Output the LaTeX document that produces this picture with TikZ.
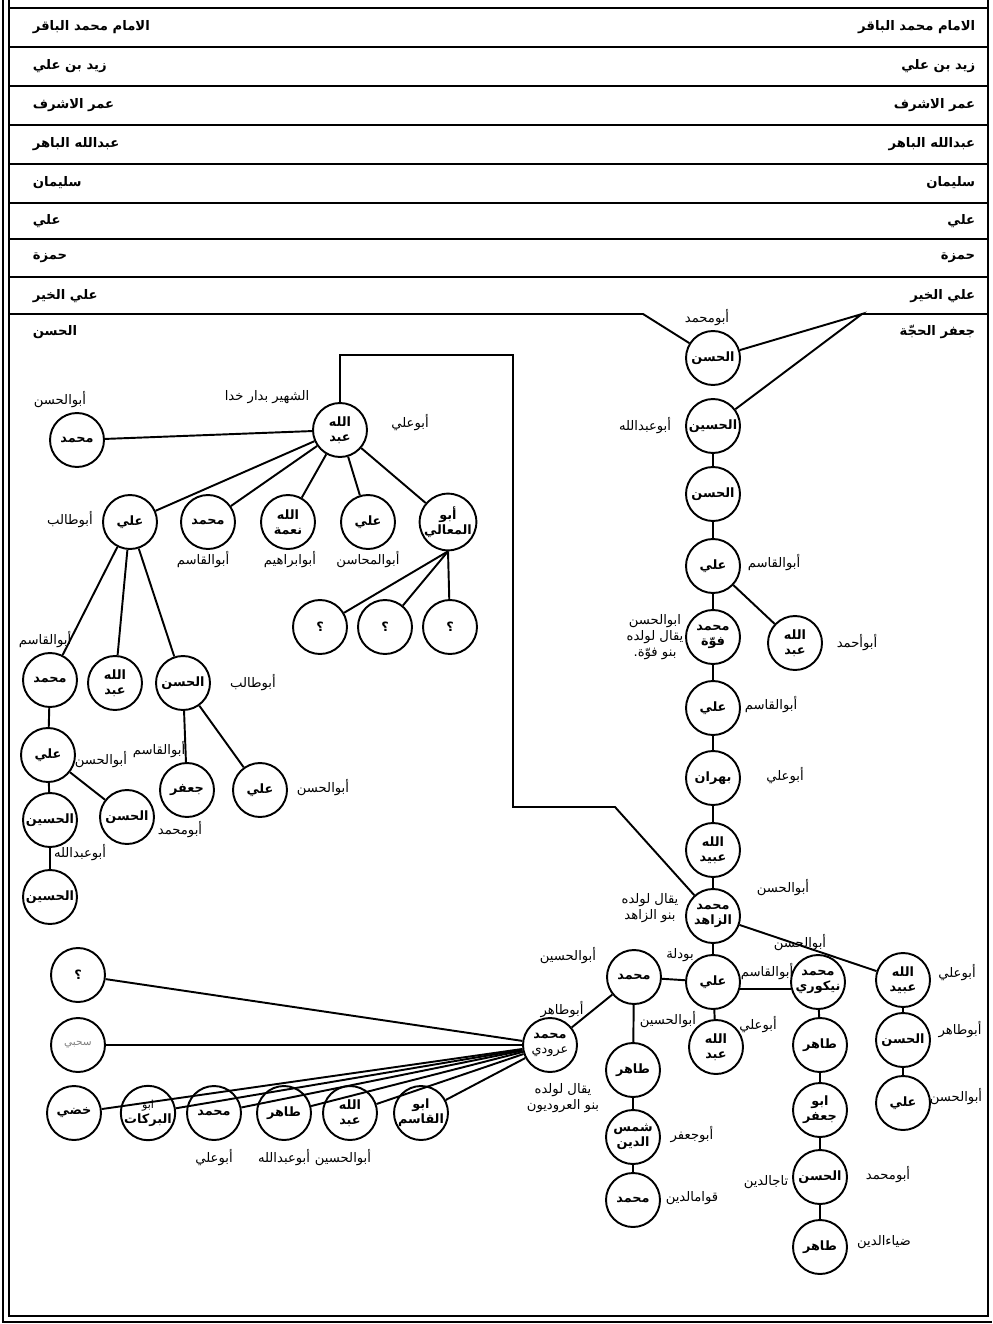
\documentclass[tikz,border=0pt]{standalone}
\usepackage{fontspec}
\setmainfont[Script=Arabic]{DejaVu Sans}
\TeXXeTstate=1
\newcommand{\ar}[1]{\beginR #1\endR}

\begin{document}
\begin{tikzpicture}[x=0.02cm,y=-0.02cm,line width=1.1pt,
  person/.style={circle,draw,minimum size=1.08cm,inner sep=0pt,align=center,font=\fontsize{7.3}{8.5}\selectfont\bfseries},
  lbl/.style={align=center,font=\fontsize{7.5}{9}\selectfont},
  rowtext/.style={font=\fontsize{7.5}{9}\selectfont\bfseries}]
\useasboundingbox (0,0) rectangle (992,1324);

\draw (3,0) -- (3,1322) -- (992,1322);
\draw (9,0) -- (9,1316) -- (988,1316) -- (988,0);
\foreach \y in {8,47,86,125,164,203,239,277}
  \draw (9,\y) -- (988,\y);

\foreach \y/\t in {27/الامام محمد الباقر,66/زيد بن علي,105/عمر الاشرف,144/عبدالله الباهر,183/سليمان,221/علي,258/حمزة,296/علي الخير}{
  \node[rowtext,anchor=west] (l\y) at (26,\y) {\ar{\t}};
  \node[rowtext,anchor=east] (r\y) at (982,\y) {\ar{\t}};
}
\node[rowtext,anchor=west] (hasan) at (26,332) {\ar{الحسن}};
\node[rowtext,anchor=east] (jafar) at (982,332) {\ar{جعفر الحجّة}};

% right line
\node[person] (h1) at (713,358) {\ar{الحسن}};
\node[person] (h2) at (713,426) {\ar{الحسين}};
\node[person] (h3) at (713,494) {\ar{الحسن}};
\node[person] (a1) at (713,566) {\ar{علي}};
\node[person] (m1) at (713,637) {\ar{محمد}\\\ar{فوّة}};
\node[person] (u1) at (795,643) {\ar{الله}\\\ar{عبد}};
\node[person] (a2) at (713,708) {\ar{علي}};
\node[person] (b1) at (713,778) {\ar{بهران}};
\node[person] (u2) at (713,850) {\ar{الله}\\\ar{عبيد}};
\node[person] (z) at (713,916) {\ar{محمد}\\\ar{الزاهد}};
\node[person] (a3) at (713,982) {\ar{علي}};
\node[person] (m2) at (634,977) {\ar{محمد}};
\node[person] (mn) at (818,982) {\ar{محمد}\\\ar{نيكوري}};
\node[person] (u3) at (903,980) {\ar{الله}\\\ar{عبيد}};
\node[person] (u4) at (716,1047) {\ar{الله}\\\ar{عبد}};
\node[person] (t1) at (633,1070) {\ar{طاهر}};
\node[person] (sd) at (633,1137) {\ar{شمس}\\\ar{الدين}};
\node[person] (m3) at (633,1200) {\ar{محمد}};
\node[person] (t2) at (820,1045) {\ar{طاهر}};
\node[person] (aj) at (820,1110) {\ar{ابو}\\\ar{جعفر}};
\node[person] (h4) at (820,1177) {\ar{الحسن}};
\node[person] (t3) at (820,1247) {\ar{طاهر}};
\node[person] (h5) at (903,1040) {\ar{الحسن}};
\node[person] (a4) at (903,1103) {\ar{علي}};
\node[person] (ma) at (550,1045) {\ar{محمد}\\\ar{\mdseries عرودي}};

\node[lbl] (h1k) at (707,318) {\ar{أبومحمد}};
\node[lbl] (h2k) at (645,426) {\ar{أبوعبدالله}};
\node[lbl] (a1k) at (774,563) {\ar{أبوالقاسم}};
\node[lbl] (m1k) at (655,637) {\ar{ابوالحسن}\\\ar{يقال لولده}\\\ar{بنو فوّة.}};
\node[lbl] (u1k) at (857,643) {\ar{أبوأحمد}};
\node[lbl] (a2k) at (771,705) {\ar{أبوالقاسم}};
\node[lbl] (b1k) at (785,776) {\ar{أبوعلي}};
\node[lbl] (zk) at (783,888) {\ar{أبوالحسن}};
\node[lbl] (zn) at (650,908) {\ar{يقال لولده}\\\ar{بنو الزاهد}};
\node[lbl] (a3k) at (680,955) {\ar{بودلة}};
\node[lbl] (m2k) at (568,956) {\ar{أبوالحسين}};
\node[lbl] (mnk) at (800,943) {\ar{أبوالحسن}};
\node[lbl] (mnq) at (767,972) {\ar{أبوالقاسم}};
\node[lbl] (u3k) at (957,973) {\ar{أبوعلي}};
\node[lbl] (u4k) at (758,1025) {\ar{أبوعلي}};
\node[lbl] (t1k) at (668,1020) {\ar{أبوالحسين}};
\node[lbl] (sdk) at (692,1135) {\ar{أبوجعفر}};
\node[lbl] (m3k) at (692,1198) {\ar{قوامالدين}};
\node[lbl] (h4t) at (766,1182) {\ar{تاجالدين}};
\node[lbl] (h4k) at (888,1175) {\ar{أبومحمد}};
\node[lbl] (t3k) at (884,1242) {\ar{ضياءالدين}};
\node[lbl] (h5k) at (960,1030) {\ar{أبوطاهر}};
\node[lbl] (a4k) at (956,1097) {\ar{أبوالحسن}};
\node[lbl] (mak) at (562,1010) {\ar{أبوطاهر}};
\node[lbl] (man) at (563,1098) {\ar{يقال لولده}\\\ar{بنو العروديون}};

% sons of muhammad arudi
\node[person] (q1) at (78,975) {\ar{؟}};
\node[person] (fa) at (78,1045) {\color{gray}\fontsize{6}{7}\selectfont\mdseries\ar{سحبي}};
\node[person] (kd) at (74,1113) {\ar{خضي}};
\node[person] (ab) at (148,1113) {\fontsize{6.3}{7}\selectfont\mdseries\ar{ابو}\\\ar{البركات}};
\node[person] (mm) at (214,1113) {\ar{محمد}};
\node[person] (tt) at (284,1113) {\ar{طاهر}};
\node[person] (ub) at (350,1113) {\ar{الله}\\\ar{عبد}};
\node[person] (aq) at (421,1113) {\ar{ابو}\\\ar{القاسم}};
\node[lbl] (mmk) at (214,1158) {\ar{أبوعلي}};
\node[lbl] (ttk) at (284,1158) {\ar{أبوعبدالله}};
\node[lbl] (ubk) at (343,1158) {\ar{أبوالحسين}};

% left line
\node[person] (ua) at (340,430) {\ar{الله}\\\ar{عبد}};
\node[person] (ml) at (77,440) {\ar{محمد}};
\node[person] (al1) at (130,522) {\ar{علي}};
\node[person] (mc) at (208,522) {\ar{محمد}};
\node[person] (nm) at (288,522) {\ar{الله}\\\ar{نعمة}};
\node[person] (al2) at (368,522) {\ar{علي}};
\node[person] (am) at (448,522) {\ar{أبو}\\\ar{المعالي}};
\node[person] (q2) at (320,627) {\ar{؟}};
\node[person] (q3) at (385,627) {\ar{؟}};
\node[person] (q4) at (450,627) {\ar{؟}};
\node[person] (lm) at (50,680) {\ar{محمد}};
\node[person] (lu) at (115,683) {\ar{الله}\\\ar{عبد}};
\node[person] (lh) at (183,683) {\ar{الحسن}};
\node[person] (la) at (48,755) {\ar{علي}};
\node[person] (lhs) at (50,820) {\ar{الحسين}};
\node[person] (lhn) at (127,817) {\ar{الحسن}};
\node[person] (lhs2) at (50,897) {\ar{الحسين}};
\node[person] (lj) at (187,790) {\ar{جعفر}};
\node[person] (la2) at (260,790) {\ar{علي}};

\node[lbl] (uan) at (267,397) {\ar{الشهير بدار خدا}};
\node[lbl] (uak) at (410,423) {\ar{أبوعلي}};
\node[lbl] (mlk) at (60,400) {\ar{أبوالحسن}};
\node[lbl] (al1k) at (70,520) {\ar{أبوطالب}};
\node[lbl] (mck) at (203,560) {\ar{أبوالقاسم}};
\node[lbl] (nmk) at (290,560) {\ar{أبوابراهيم}};
\node[lbl] (al2k) at (368,560) {\ar{أبوالمحاسن}};
\node[lbl] (lmk) at (45,640) {\ar{أبوالقاسم}};
\node[lbl] (lhk) at (253,683) {\ar{أبوطالب}};
\node[lbl] (lak) at (101,760) {\ar{أبوالحسن}};
\node[lbl] (lhsk) at (80,853) {\ar{أبوعبدالله}};
\node[lbl] (lhnk) at (180,830) {\ar{أبومحمد}};
\node[lbl] (ljk) at (159,750) {\ar{أبوالقاسم}};
\node[lbl] (la2k) at (323,788) {\ar{أبوالحسن}};

% connectors
\coordinate (jl) at (643,314);
\coordinate (jr) at (862,314);
\draw (9,314) -- (jl) -- (h1);
\draw (h1) -- (jr) -- (h2);
\draw (jr) -- (988,314);
\draw (h2) -- (h3) -- (a1) -- (m1) -- (a2) -- (b1) -- (u2) -- (z) -- (a3) -- (u4);
\draw (a1) -- (u1);
\draw (z) -- (u3) -- (h5) -- (a4);
\draw (a3) -- (m2) -- (ma);
\draw (m2) -- (t1) -- (sd) -- (m3);
\draw (a3.-15) -- (mn.-165);
\draw (mn) -- (t2) -- (aj) -- (h4) -- (t3);
\foreach \n in {q1,fa,kd,ab,mm,tt,ub,aq}
  \draw (ma) -- (\n);

\coordinate (c1) at (340,355);
\coordinate (c2) at (513,355);
\coordinate (c3) at (513,807);
\coordinate (c4) at (615,807);
\draw (ua) -- (c1) -- (c2) -- (c3) -- (c4) -- (z);
\draw (ua) -- (ml);
\foreach \n in {al1,mc,nm,al2,am}
  \draw (ua) -- (\n);
\foreach \n in {q2,q3,q4}
  \draw (am.south) -- (\n);
\foreach \n in {lm,lu,lh}
  \draw (al1) -- (\n);
\draw (lm) -- (la) -- (lhs) -- (lhs2);
\draw (la) -- (lhn);
\draw (lh) -- (lj);
\draw (lh) -- (la2);
\end{tikzpicture}
\end{document}
